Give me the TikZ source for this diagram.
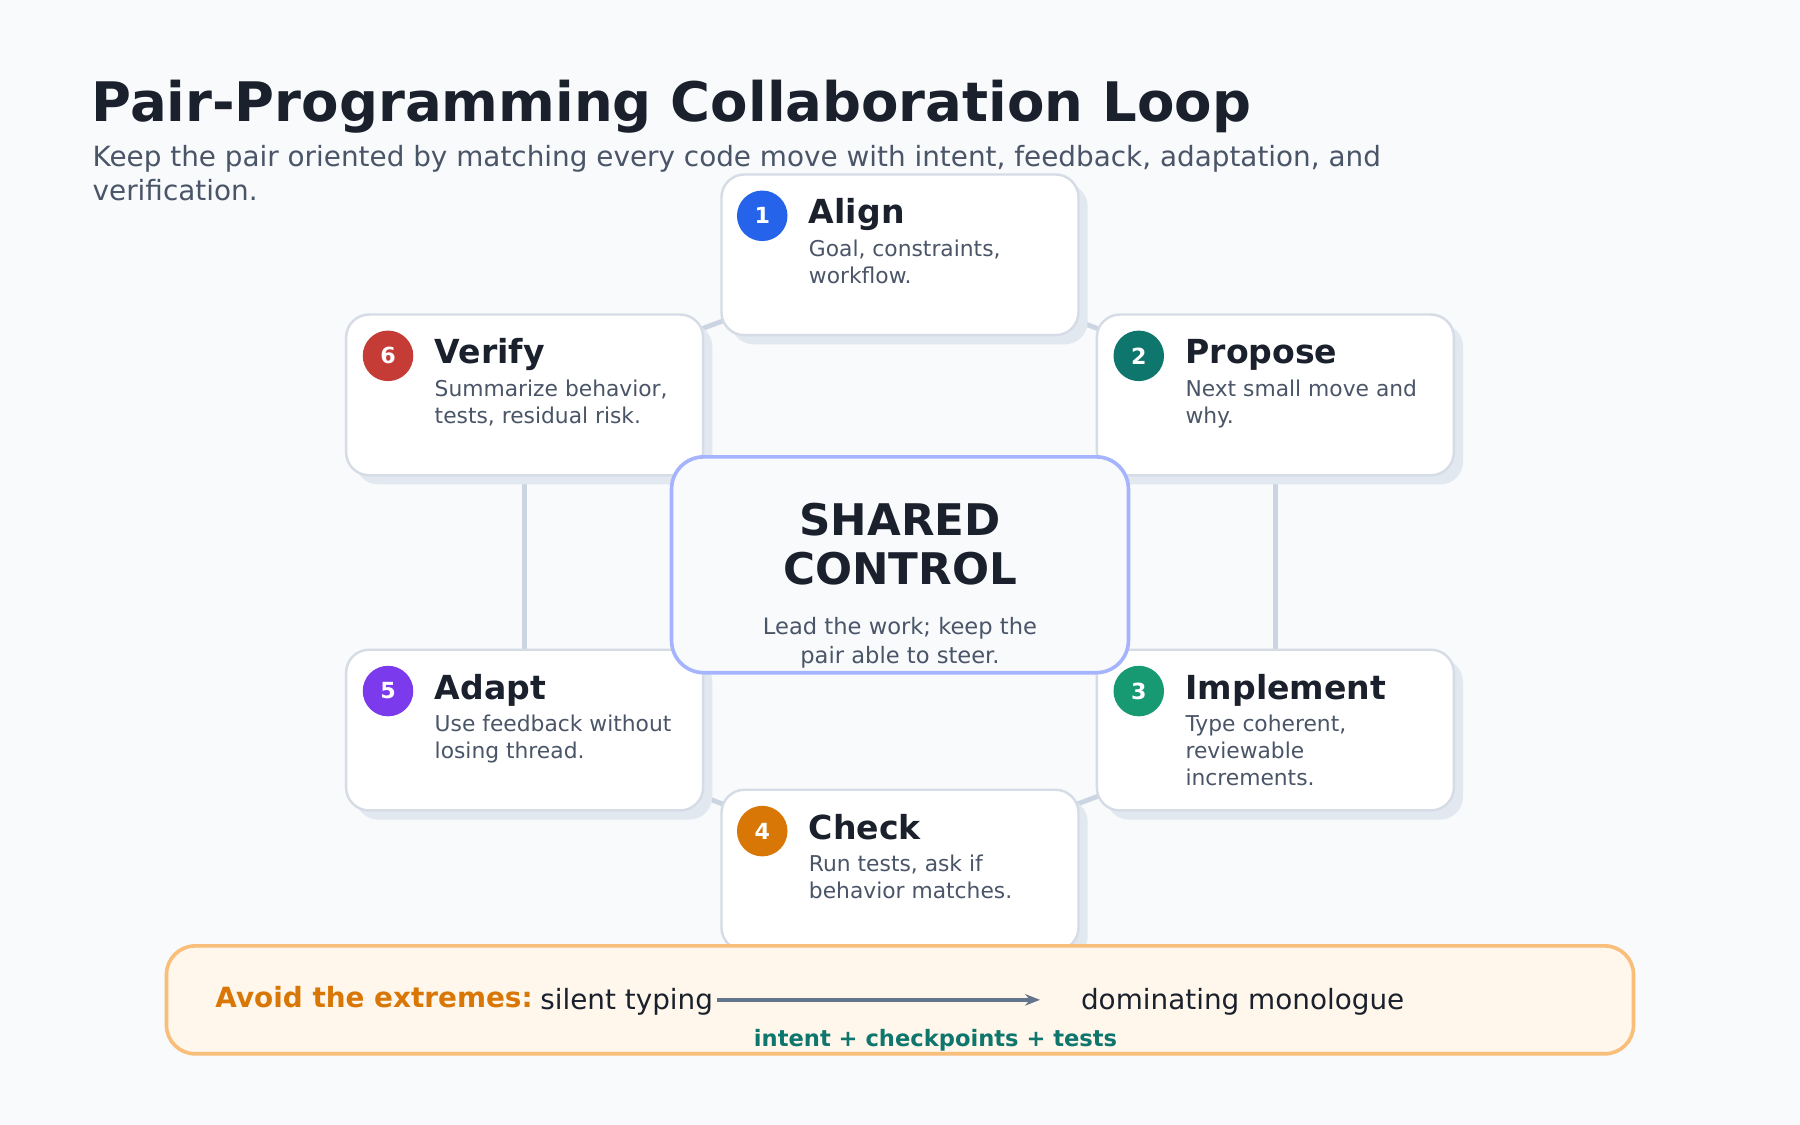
\documentclass[tikz,border=0pt]{standalone}
\usepackage{fontspec}
\setmainfont{DejaVu Sans}
\usetikzlibrary{arrows.meta}
\definecolor{bg}{HTML}{F8FAFC}
\definecolor{ink}{HTML}{1A202C}
\definecolor{sub}{HTML}{4A5568}
\definecolor{edge}{HTML}{CBD5E1}
\definecolor{bord}{HTML}{D5DCE6}
\definecolor{shad}{HTML}{E2E8F0}
\definecolor{cblue}{HTML}{2563EB}
\definecolor{cteal}{HTML}{0F766E}
\definecolor{cgreen}{HTML}{179A72}
\definecolor{corange}{HTML}{D97706}
\definecolor{cpurple}{HTML}{7C3AED}
\definecolor{cred}{HTML}{C53B36}
\definecolor{cen}{HTML}{A5B4FC}
\definecolor{banf}{HTML}{FFF7EB}
\definecolor{banb}{HTML}{F8BE7A}
\definecolor{arr}{HTML}{64748B}
\begin{document}
\begin{tikzpicture}[x=0.01cm,y=-0.01cm,
  card/.style={draw=bord,line width=0.6pt,fill=white,rounded corners=0.2cm,minimum width=311*0.01cm,minimum height=140*0.01cm,inner sep=0pt},
  shadow/.style={fill=shad,rounded corners=0.2cm,minimum width=311*0.01cm,minimum height=140*0.01cm,inner sep=0pt},
  num/.style={circle,minimum size=0.44cm,inner sep=0pt,text=white,font=\fontsize{5.5}{6}\selectfont\bfseries},
  ttl/.style={anchor=base west,inner sep=0pt,text=ink,font=\fontsize{8.2}{9}\selectfont\bfseries},
  dsc/.style={anchor=north west,inner sep=0pt,text=sub,align=left,font=\fontsize{5.4}{6.7}\selectfont},
  link/.style={draw=edge,line width=1.2pt}]
\useasboundingbox[fill=bg] (0,0) rectangle (1568,980);
\node[anchor=base west,inner sep=0pt,text=ink,font=\fontsize{13.5}{15}\selectfont\bfseries] (title) at (79,106) {Pair-Programming Collaboration Loop};
\node[anchor=north west,inner sep=0pt,text=sub,align=left,font=\fontsize{6.9}{8.5}\selectfont] (subt) at (80,126) {Keep the pair oriented by matching every code move with intent, feedback, adaptation, and\\verification.};
% links
\coordinate (cA) at (784,222); \coordinate (cV) at (457,344); \coordinate (cP) at (1111,344);
\coordinate (cD) at (457,636); \coordinate (cI) at (1111,636); \coordinate (cC) at (784,758);
\draw[link] (cA) -- (cV); \draw[link] (cA) -- (cP);
\draw[link] (cV) -- (cD); \draw[link] (cP) -- (cI);
\draw[link] (cD) -- (cC); \draw[link] (cI) -- (cC);
% shadows + cards
\foreach \n/\x/\y in {A/784/222,V/457/344,P/1111/344,D/457/636,I/1111/636,C/784/758}{
  \node[shadow] (s\n) at (\x+8,\y+8) {};}
\foreach \n/\x/\y in {A/784/222,V/457/344,P/1111/344,D/457/636,I/1111/636,C/784/758}{
  \node[card] (k\n) at (\x,\y) {};}
% center
\node[draw=cen,line width=0.9pt,fill=bg,rounded corners=0.28cm,minimum width=398*0.01cm,minimum height=188*0.01cm,inner sep=0pt] (center) at (784,492) {};
\node[inner sep=0pt,text=ink,align=center,font=\fontsize{10.8}{12}\selectfont\bfseries] (ctitle) at (784,474) {SHARED\\CONTROL};
\node[inner sep=0pt,text=sub,align=center,font=\fontsize{5.6}{7.1}\selectfont] (ctext) at (784,560) {Lead the work; keep the\\pair able to steer.};
% contents
\foreach \n/\x/\y/\c/\k/\t/\d in {
  A/628/152/cblue/1/Align/{Goal, constraints,\\workflow.},
  V/302/274/cred/6/Verify/{Summarize behavior,\\tests, residual risk.},
  P/956/274/cteal/2/Propose/{Next small move and\\why.},
  D/302/566/cpurple/5/Adapt/{Use feedback without\\losing thread.},
  I/956/566/cgreen/3/Implement/{Type coherent,\\reviewable\\increments.},
  C/628/688/corange/4/Check/{Run tests, ask if\\behavior matches.}}{
  \node[num,fill=\c] (n\n) at (\x+36,\y+36) {\k};
  \node[ttl] (t\n) at (\x+76,\y+43) {\t};
  \node[dsc] (d\n) at (\x+76,\y+56) {\d};}
% banner
\node[draw=banb,line width=0.9pt,fill=banf,rounded corners=0.25cm,minimum width=1278*0.01cm,minimum height=94*0.01cm,inner sep=0pt] (banner) at (784,871) {};
\node[anchor=base west,inner sep=0pt,text=corange,font=\fontsize{6.9}{8}\selectfont\bfseries] (avoid) at (187,878) {Avoid the extremes:};
\node[anchor=base west,inner sep=0pt,text=ink,font=\fontsize{6.9}{8}\selectfont] (silent) at (470,879) {silent typing};
\node[anchor=base west,inner sep=0pt,text=ink,font=\fontsize{6.9}{8}\selectfont] (dom) at (941,879) {dominating monologue};
\coordinate (aend) at (906,871);
\draw[draw=arr,line width=1pt,-{Stealth[length=0.13cm,width=0.1cm]}] (silent.east |- 0,871) ++(3,0) -- (aend);
\node[inner sep=0pt,text=cteal,font=\fontsize{5.6}{7}\selectfont\bfseries] (mid) at (815,906) {intent + checkpoints + tests};
\end{tikzpicture}
\end{document}
